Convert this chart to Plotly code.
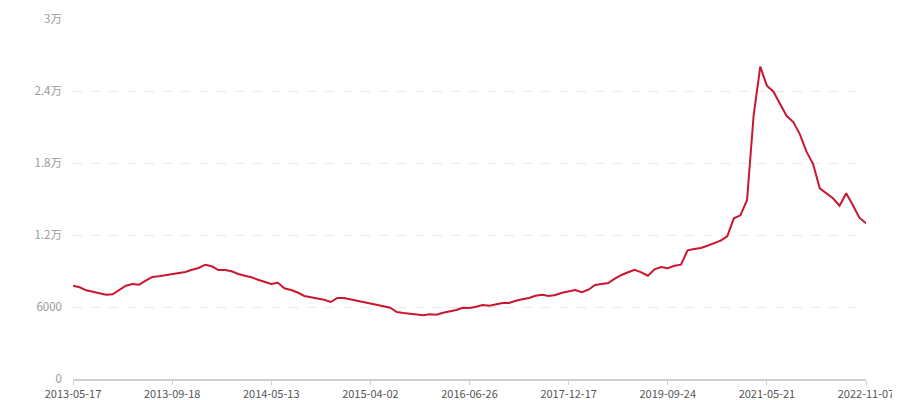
import plotly.graph_objects as go

values = [
    7775, 7642, 7392, 7275, 7142, 7025, 7058, 7417, 7775, 7917,
    7858, 8192, 8500, 8558, 8642, 8725, 8808, 8917, 9108, 9250,
    9525, 9392, 9083, 9083, 8975, 8750, 8608, 8475, 8275, 8108,
    7917, 8025, 7558, 7417, 7208, 6917, 6808, 6725, 6608, 6417,
    6750, 6750, 6642, 6525, 6417, 6333, 6225, 6058, 5942, 5583,
    5500, 5442, 5392, 5308, 5392, 5358, 5525, 5642, 5750, 5942,
    5917, 6025, 6167, 6108, 6225, 6333, 6333, 6525, 6642, 6750,
    6942, 7025, 6917, 7000, 7192, 7308, 7417, 7225, 7442, 7833,
    7917, 8000, 8358, 8667, 8892, 9108, 8892, 8608, 9142, 9333,
    9225, 9442, 9525, 10725, 10833, 10917, 11108, 11308, 11525, 11892,
    13392, 13642, 14917, 22000, 26025, 24442, 23942, 22917, 21917, 21417,
    20392, 18942, 17917, 15892, 15500, 15058, 14442, 15475, 14500, 13442,
    12975,
]
tick_positions = [0, 15, 30, 45, 60, 75, 90, 105, 120]
tick_labels = ["2013-05-17", "2013-09-18", "2014-05-13", "2015-04-02", "2016-06-26",
               "2017-12-17", "2019-09-24", "2021-05-21", "2022-11-07"]
y_ticks = [0, 6000, 12000, 18000, 24000, 30000]
y_labels = ["0", "6000", "1.2万", "1.8万", "2.4万", "3万"]

x = list(range(len(values)))

fig = go.Figure()
fig.add_trace(go.Scatter(
    x=x, y=values, mode="lines",
    line=dict(color="#c8172e", width=2),
    hoverinfo="y",
))

# page body has an 8px margin, so the figure is 892x392 and offsets compensate
fig.update_layout(
    width=892, height=392,
    margin=dict(l=65, r=34, t=11, b=21),
    plot_bgcolor="white", paper_bgcolor="white",
    showlegend=False,
    font=dict(family="Noto Sans CJK SC, sans-serif", size=11),
)
fig.update_xaxes(
    range=[0, len(values) - 1], automargin=False,
    tickmode="array", tickvals=tick_positions, ticktext=tick_labels,
    showgrid=False, zeroline=False,
    showline=True, linecolor="#d0d0d0", linewidth=2,
    ticks="outside", ticklen=4, tickcolor="#d0d0d0",
    tickfont=dict(color="#555555", size=11),
)
fig.update_yaxes(
    range=[0, 30000], automargin=False,
    tickmode="array", tickvals=y_ticks, ticktext=y_labels,
    showgrid=True, gridcolor="#e8e8e8", griddash="dash", gridwidth=1,
    zeroline=False, showline=False,
    ticks="", ticklabelstandoff=10,
    tickfont=dict(color="#999999", size=11.5),
)

fig.write_html("out.html")
